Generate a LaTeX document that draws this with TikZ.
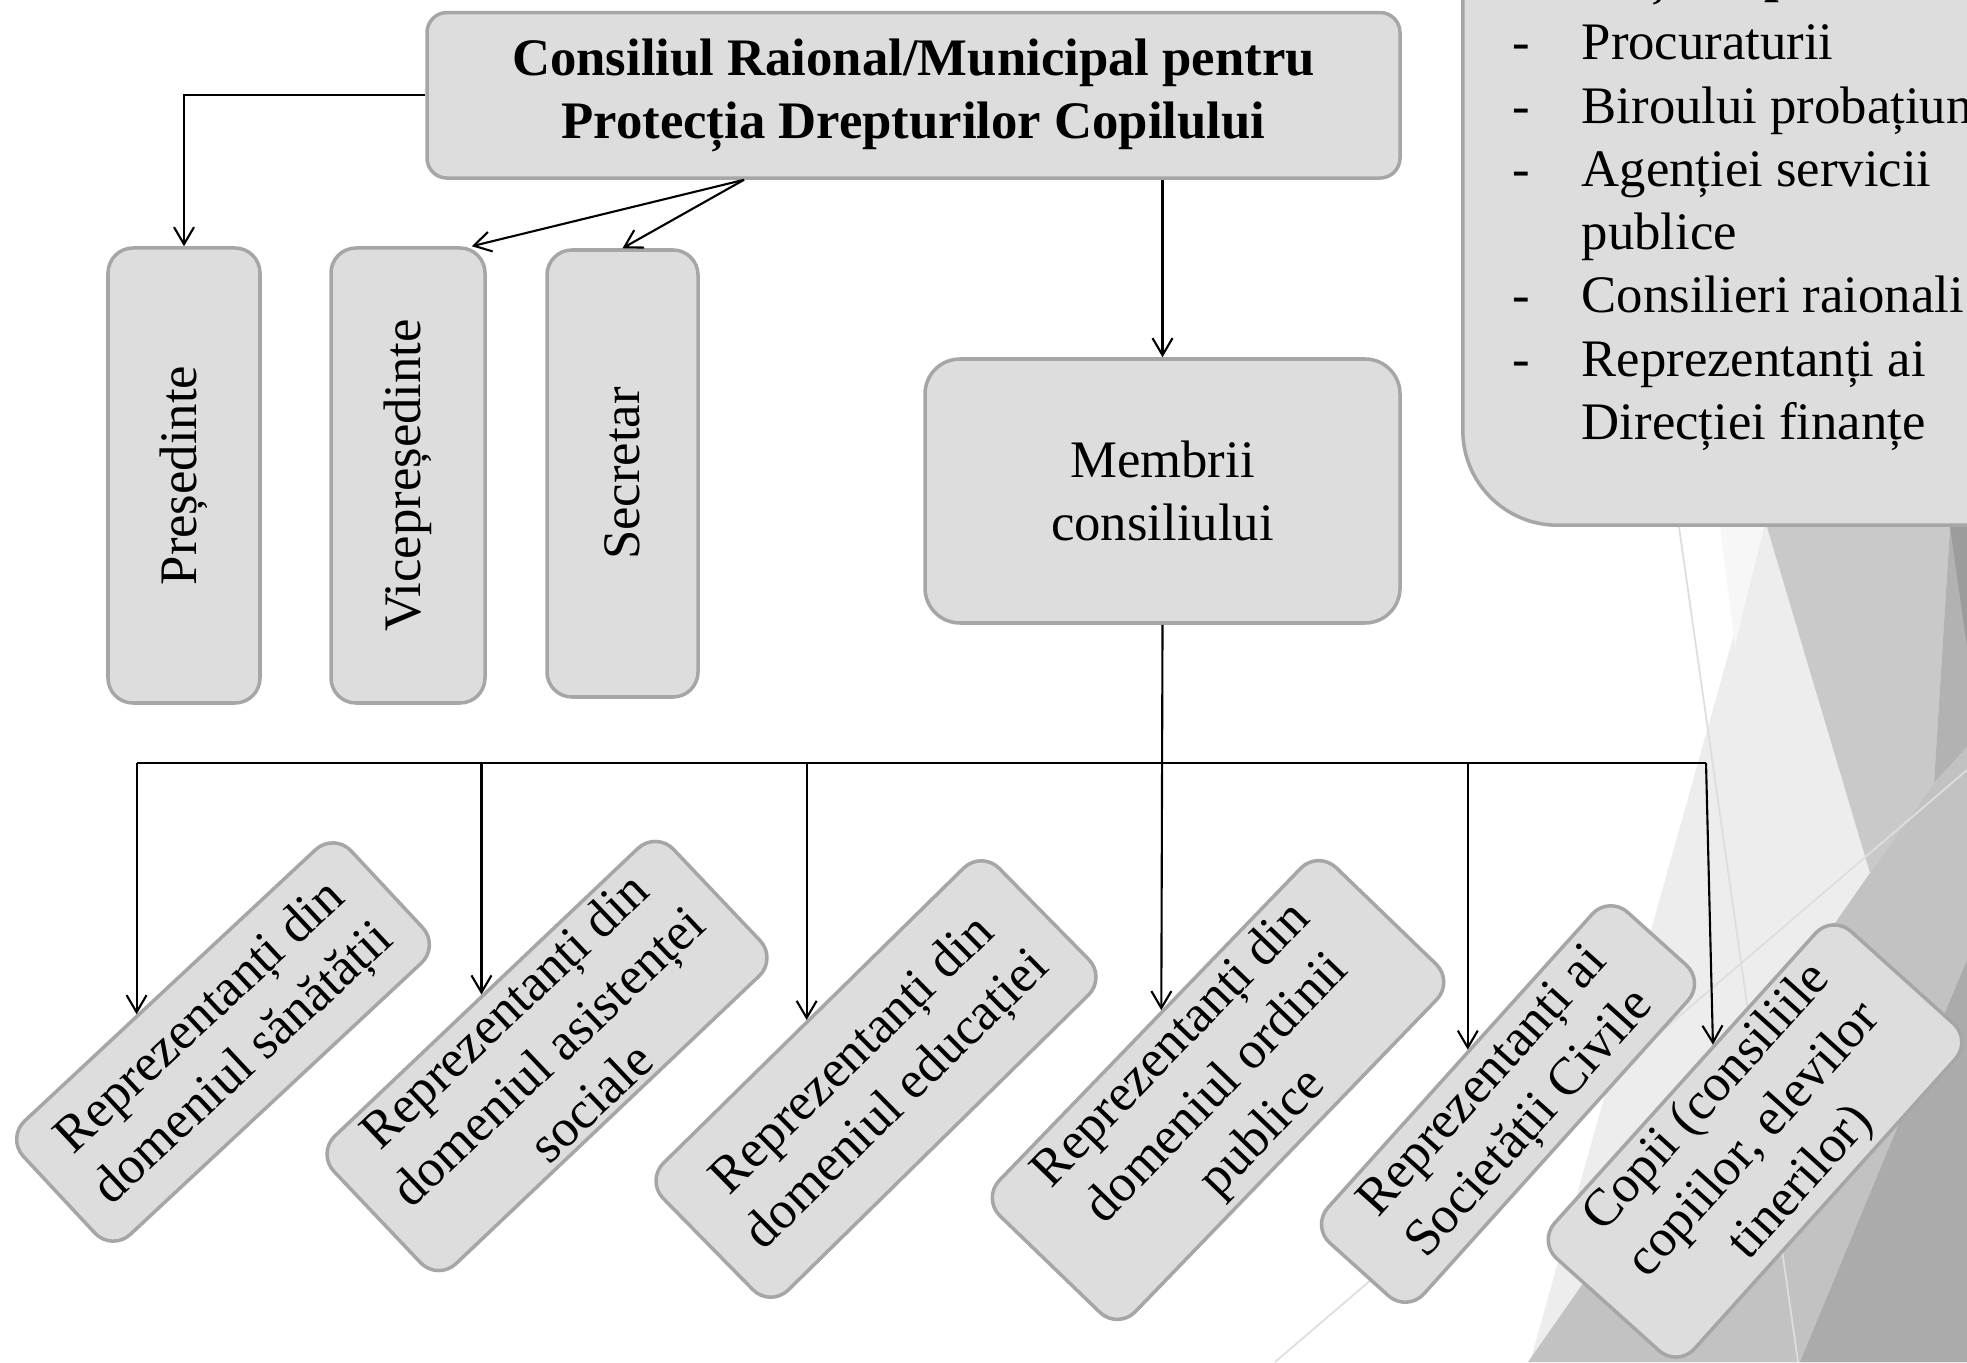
\documentclass[tikz,border=0pt]{standalone}
\usepackage{fontspec}
\setmainfont{Liberation Serif}
\usepackage{graphicx}
\usetikzlibrary{arrows.meta,calc}

\newcommand{\boxfont}{\fontsize{15}{18}\selectfont}
\definecolor{boxfill}{HTML}{DDDDDD}
\definecolor{boxline}{HTML}{A6A6A6}

\tikzset{
	box/.style={draw=boxline, fill=boxfill, line width=1pt, rounded corners=0.25cm, font=\boxfont, align=center, inner sep=0pt},
	arr/.style={line width=0.6pt, -{Straight Barb[length=1.7mm, width=2mm]}},
	bus/.style={line width=0.6pt}
}

\begin{document}
\begin{tikzpicture}
	\path [use as bounding box, fill=white] (0, 0) rectangle (19.67, 13.62);
	\fill [black!7] (17.64, 8.35) -- (19.67, 8.35) -- (19.67, 0) -- (15.30, 0) -- cycle;
	\fill [black!3] (17.20, 8.35) -- (17.64, 8.35) -- (17.35, 7.17) -- cycle;
	\fill [black!21] (17.67, 8.35) -- (19.50, 8.35) -- (19.34, 5.79) -- (18.70, 4.89) -- cycle;
	\fill [black!30] (19.50, 8.35) -- (19.67, 8.35) -- (19.67, 6.15) -- (19.34, 5.79) -- cycle;
	\fill [black!39] (19.50, 8.35) -- (19.67, 8.35) -- (19.67, 7.15) -- cycle;
	\fill [black!24] (18.70, 4.89) -- (19.34, 5.79) -- (19.67, 6.15) -- (19.67, 0) -- (15.28, 0) -- cycle;
	\fill [black!33] (19.67, 4.02) -- (19.67, 0) -- (18.00, 0) -- cycle;
	\draw [black!13, line width=0.5pt] (16.79, 8.35) -- (17.98, 0);
	\draw [black!13, line width=0.5pt] (12.75, 0) -- (19.67, 5.92);

	\node [box, rounded corners=0.95cm, minimum width=7cm, minimum height=8cm, anchor=south west] (extra) at (14.61, 8.35) {};
	\node [font=\boxfont, anchor=base west, inner sep=0pt] (extralist) at (15.12, 13.70) {%
		\begin{tabular}[t]{@{}p{0.69cm}@{}l@{}}
			\multicolumn{2}{@{}l@{}}{\bfseries Invitați, după caz:}\\[0.045cm]
			- & Procuraturii\\
			- & Biroului probațiune\\
			- & Agenției servicii\\
			  & publice\\
			- & Consilieri raionali\\
			- & Reprezentanți ai\\
			  & Direcției finanțe
		\end{tabular}};

	\node [box, rounded corners=0.2cm, minimum width=9.73cm, minimum height=1.655cm, font=\boxfont\bfseries] (title) at (9.135, 12.667) {Consiliul Raional/Municipal pentru\\Protecția Drepturilor Copilului};
	\node [box, minimum width=1.52cm, minimum height=4.55cm] (pres) at (1.84, 8.865) {\rotatebox{90}{Președinte}};
	\node [box, minimum width=1.54cm, minimum height=4.55cm] (vice) at (4.08, 8.865) {\rotatebox{90}{Vicepreședinte}};
	\node [box, minimum width=1.51cm, minimum height=4.47cm] (sec) at (6.225, 8.885) {\rotatebox{90}{Secretar}};
	\node [box, rounded corners=0.35cm, minimum width=4.75cm, minimum height=2.64cm] (memb) at (11.625, 8.71) {Membrii\\consiliului};

	\node [box, rotate=43, minimum width=4.48cm, minimum height=1.55cm] (rep1) at (2.23, 3.20) {Reprezentanți din\\domeniul sănătății};
	\node [box, rotate=43.5, minimum width=4.68cm, minimum height=1.76cm] (rep2) at (5.47, 3.06) {Reprezentanți din\\domeniul asistenței\\sociale};
	\node [box, rotate=44.5, minimum width=4.71cm, minimum height=1.78cm] (rep3) at (8.76, 2.83) {Reprezentanți din\\domeniul educației};
	\node [box, rotate=46, minimum width=4.84cm, minimum height=1.89cm] (rep4) at (12.18, 2.72) {Reprezentanți din\\domeniul ordinii\\publice};
	\node [box, rotate=48, minimum width=4.45cm, minimum height=1.29cm] (rep5) at (15.08, 2.58) {Reprezentanți ai\\Societății Civile};
	\node [box, rotate=48, minimum width=4.40cm, minimum height=1.88cm] (rep6) at (17.55, 2.21) {Copii (consiliile\\copiilor, elevilor\\tinerilor)};

	\coordinate (split) at ([xshift=-1.695cm]title.south);
	\coordinate (busl) at (1.38, 5.99);
	\coordinate (j6) at (17.06, 5.99);
	\coordinate (t1) at ($(rep1.north west)!0.402!(rep1.north east)$);
	\coordinate (t2) at ($(rep2.north west)!0.489!(rep2.north east)$);
	\coordinate (t3) at ($(rep3.north west)!0.483!(rep3.north east)$);
	\coordinate (t4) at ($(rep4.north west)!0.537!(rep4.north east)$);
	\coordinate (t5) at ($(rep5.north west)!0.530!(rep5.north east)$);
	\coordinate (t6) at ($(rep6.north west)!0.598!(rep6.north east)$);

	\draw [arr] (title.west) -| (pres.north);
	\draw [arr] (split) -- ([xshift=-0.15cm]vice.north east);
	\draw [arr] (split) -- (sec.north);
	\draw [arr] (title.south -| memb.north) -- (memb.north);
	\draw [bus] (t1 |- busl) -- (j6);
	\draw [arr] (memb.south) -- (t4);
	\foreach \i in {1, 2, 3, 5}
		\draw [arr] (t\i |- busl) -- (t\i);
	\draw [arr] (j6) -- (t6);
\end{tikzpicture}
\end{document}
